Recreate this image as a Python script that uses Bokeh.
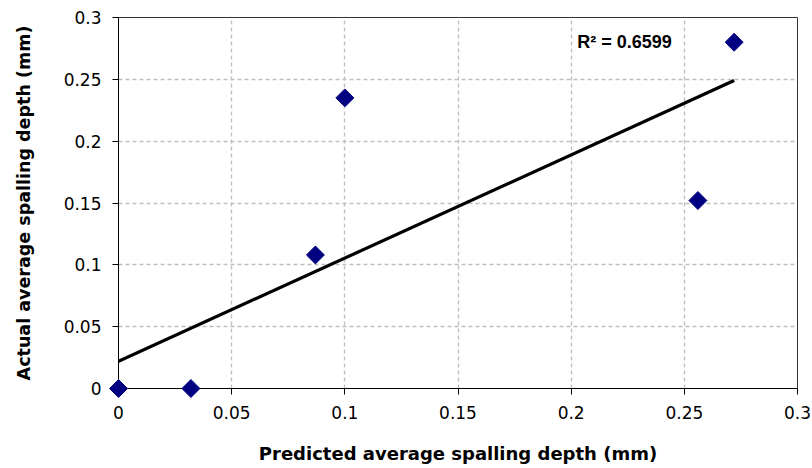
import numpy as np
from bokeh.plotting import figure
from bokeh.models import FixedTicker, Label
from bokeh.embed import file_html
from bokeh.resources import INLINE

# Data
predicted = [0.0, 0.032, 0.087, 0.100, 0.256, 0.272]
actual = [0.0, 0.0, 0.108, 0.235, 0.152, 0.280]

# Trendline endpoints
trend_x = [0.0, 0.272]
trend_y = [0.022, 0.249]

r2_text = "R² = 0.6599"

x_ticks = [0, 0.05, 0.1, 0.15, 0.2, 0.25, 0.3]
x_tick_labels = ["0", "0.05", "0.1", "0.15", "0.2", "0.25", "0.3"]
y_ticks = [0, 0.05, 0.1, 0.15, 0.2, 0.25, 0.3]
y_tick_labels = ["0", "0.05", "0.1", "0.15", "0.2", "0.25", "0.3"]

AX_FONT = "DejaVu Sans"
R2_FONT = "Liberation Sans"

p = figure(width=812, height=468, x_range=(0, 0.3), y_range=(0, 0.3),
           output_backend="svg", toolbar_location=None,
           min_border_left=118, min_border_right=15, min_border_top=17,
           min_border_bottom=80)
p.background_fill_color = "white"
p.border_fill_color = "white"
p.outline_line_color = "#333333"
p.outline_line_width = 1

# grid
for g in (p.xgrid, p.ygrid):
    g.grid_line_color = "#c0c0c0"
    g.grid_line_dash = "4 3"
    g.grid_line_width = 1.4

p.xaxis.ticker = FixedTicker(ticks=x_ticks)
p.yaxis.ticker = FixedTicker(ticks=y_ticks)
p.xaxis.major_label_overrides = {t: l for t, l in zip(x_ticks, x_tick_labels)}
p.yaxis.major_label_overrides = {t: l for t, l in zip(y_ticks, y_tick_labels)}

for ax in (p.xaxis, p.yaxis):
    ax.axis_line_color = "black"
    ax.axis_line_width = 1
    ax.major_tick_line_color = "black"
    ax.major_tick_out = 6
    ax.major_tick_in = 0
    ax.minor_tick_line_color = None
    ax.major_label_text_font = AX_FONT
    ax.major_label_text_font_size = "17px"
    ax.major_label_text_color = "black"
    ax.axis_label_text_font = AX_FONT
    ax.axis_label_text_font_style = "bold"
    ax.axis_label_text_color = "black"

p.xaxis.axis_label_text_font_size = "18px"
p.yaxis.axis_label_text_font_size = "17.5px"

p.xaxis.axis_label = "Predicted average spalling depth (mm)"
p.yaxis.axis_label = "Actual average spalling depth (mm)"
p.xaxis.major_label_standoff = 11
p.yaxis.major_label_standoff = 11
p.xaxis.axis_label_standoff = 21
p.yaxis.axis_label_standoff = 27

# trendline
p.line(trend_x, trend_y, line_color="black", line_width=3.2)

# markers (overlay level so they are not clipped at the frame edges)
p.scatter(predicted, actual, marker="square", angle=np.pi / 4, size=12.7,
          fill_color="#000080", line_color="#000080", level="overlay")

p.add_layout(Label(x=0.2027, y=0.2805, text=r2_text, text_font=R2_FONT,
                   text_font_size="18px", text_font_style="bold",
                   text_color="black", text_baseline="alphabetic"))

open("out.html", "w").write(file_html(p, INLINE))
